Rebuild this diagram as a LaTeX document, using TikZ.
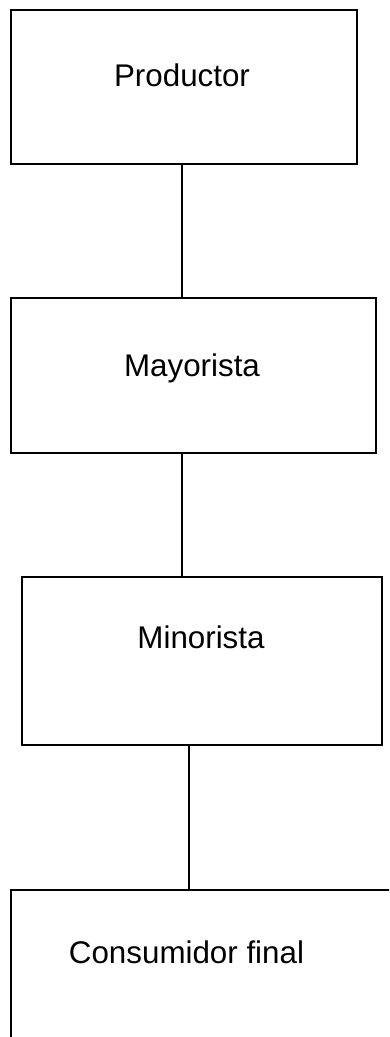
\documentclass[tikz,border=0pt]{standalone}
\usepackage{fontspec}
\setmainfont{Liberation Sans}
\usetikzlibrary{positioning,calc}

\tikzset{
  canalbox/.style={draw, line width=1.5pt, rectangle, inner sep=0pt, anchor=north west},
  canaltext/.style={anchor=base, inner sep=0pt, font=\fontsize{23.5}{28}\selectfont},
  canalline/.style={line width=1.5pt}
}

\begin{document}
\begin{tikzpicture}[x=0.75pt,y=-0.75pt]
  \useasboundingbox (0,0) rectangle (389,1037);
  \clip (0,0) rectangle (389,1037);

  % Drawing box Productor
  \node [canalbox, minimum width=346*0.75pt, minimum height=153.5*0.75pt] (prod) at (10,9.5) {};
  \node [canaltext] (prodText) at (182,87) {Productor};

  % Drawing box Mayorista
  \node [canalbox, minimum width=365*0.75pt, minimum height=155*0.75pt] (mayo) at (10,297) {};
  \node [canaltext] (mayoText) at (192,376) {Mayorista};

  % Drawing box Minorista
  \node [canalbox, minimum width=360*0.75pt, minimum height=168*0.75pt] (mino) at (21,576) {};
  \node [canaltext] (minoText) at (201,648) {Minorista};

  % Drawing box Consumidor final (cut at the page edge)
  \node [canalbox, minimum width=400*0.75pt, minimum height=170*0.75pt] (cons) at (10,889) {};
  \node [canaltext] (consText) at (186.5,963) {Consumidor final};

  % Drawing connectors
  \coordinate (upper) at (182,0);
  \coordinate (lower) at (189,0);
  \draw [canalline] (upper |- prod.south) -- (upper |- mayo.north);
  \draw [canalline] (upper |- mayo.south) -- (upper |- mino.north);
  \draw [canalline] (lower |- mino.south) -- (lower |- cons.north);
\end{tikzpicture}
\end{document}
